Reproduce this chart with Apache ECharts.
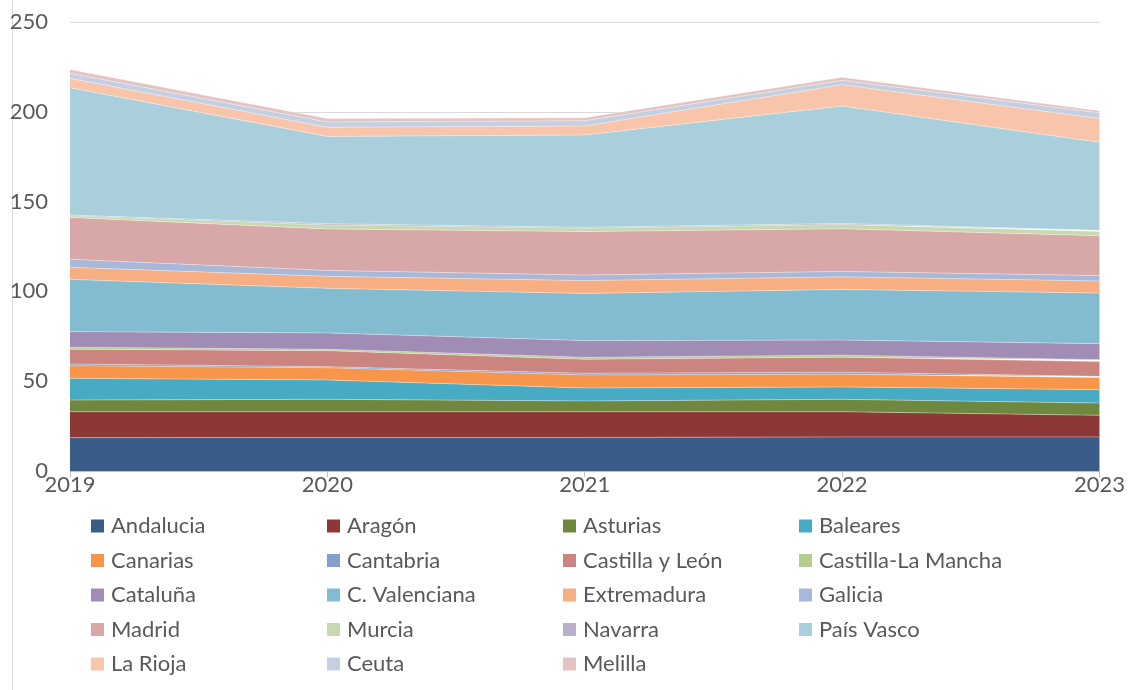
<!DOCTYPE html>
<html>
<head>
<meta charset="utf-8">
<script src="https://cdn.jsdelivr.net/npm/echarts@6/dist/echarts.min.js"></script>
<style>
html,body{margin:0;padding:0;background:#fff;}
#chart{width:1128px;height:690px;}
</style>
</head>
<body>
<div id="chart"></div>
<script>
// Data
const years = ['2019', '2020', '2021', '2022', '2023'];
const regions = ['Andalucia', 'Aragón', 'Asturias', 'Baleares', 'Canarias', 'Cantabria', 'Castilla y León', 'Castilla-La Mancha', 'Cataluña', 'C. Valenciana', 'Extremadura', 'Galicia', 'Madrid', 'Murcia', 'Navarra', 'País Vasco', 'La Rioja', 'Ceuta', 'Melilla'];
const andalucia      = [18.6, 18.7, 18.7, 19.0, 19.0];
const aragon         = [14.4, 14.3, 14.3, 14.0, 12.0];
const asturias       = [6.5, 6.9, 6.0, 6.9, 6.8];
const baleares       = [12.1, 10.8, 7.2, 6.9, 7.5];
const canarias       = [7.0, 6.8, 7.3, 7.1, 6.7];
const cantabria      = [1.0, 0.6, 0.9, 1.1, 0.7];
const castillaLeon   = [8.2, 8.9, 7.8, 8.4, 8.2];
const castillaMancha = [1.1, 0.8, 1.1, 1.1, 1.1];
const cataluna       = [8.7, 9.1, 9.3, 8.4, 8.9];
const valenciana     = [29.1, 24.8, 26.3, 28.2, 28.2];
const extremadura    = [6.7, 6.7, 7.1, 7.0, 6.7];
const galicia        = [4.5, 3.3, 3.1, 3.0, 3.0];
const madrid         = [23.3, 23.1, 24.2, 23.8, 22.2];
const murcia         = [0.9, 2.2, 1.9, 2.3, 2.4];
const navarra        = [0.4, 0.7, 0.5, 0.6, 0.6];
const paisVasco      = [70.9, 48.6, 51.4, 65.4, 49.0];
const laRioja        = [5.2, 5.1, 5.0, 11.9, 13.2];
const ceuta          = [2.8, 2.9, 2.9, 2.4, 3.2];
const melilla        = [2.2, 1.9, 1.7, 1.7, 1.2];
const yTicks = [0, 50, 100, 150, 200, 250];

const seriesData = [andalucia, aragon, asturias, baleares, canarias, cantabria, castillaLeon, castillaMancha, cataluna, valenciana, extremadura, galicia, madrid, murcia, navarra, paisVasco, laRioja, ceuta, melilla];
const colors = ['#3A5C89', '#8B3836', '#6E883F', '#47ABC4', '#F7964A', '#849FCC', '#CC8480', '#B5CD8F', '#A08CB4', '#83BCD0', '#F7AE82', '#A8B8D8', '#D8A8A8', '#C7D9AE', '#B9AECB', '#A9CFDD', '#F9C5AA', '#C4D0E2', '#E4C3C3'];

const FONT = 'Lato';
const TXT = '#595959';

const chart = echarts.init(document.getElementById('chart'), null, {renderer: 'canvas'});

const series = regions.map((name, i) => ({
  name: name,
  type: 'line',
  stack: 'total',
  data: seriesData[i],
  symbol: 'none',
  showSymbol: false,
  lineStyle: {width: 0.6, color: 'rgba(255,255,255,0.6)'},
  areaStyle: {color: colors[i], opacity: 1},
  itemStyle: {color: colors[i]},
  emphasis: {disabled: true},
  z: 2
}));

// Legend columns (row-major order in 4 columns)
const colLefts = [91, 327, 563, 799];
const legends = colLefts.map((left, c) => ({
  orient: 'vertical',
  left: left,
  top: 515,
  padding: 0,
  itemWidth: 13,
  itemHeight: 13,
  itemGap: 12.5,
  icon: 'rect',
  selectedMode: false,
  textStyle: {fontFamily: FONT, fontSize: 22, lineHeight: 22, color: TXT, padding: [0, 0, 0, 2]},
  data: regions.filter((r, i) => i % 4 === c)
}));

chart.setOption({
  animation: false,
  color: colors,
  grid: {left: 70, right: 28, top: 22, bottom: 219, containLabel: false},
  legend: legends,
  xAxis: {
    type: 'category',
    data: years,
    boundaryGap: false,
    axisLine: {lineStyle: {color: '#BFBFBF', width: 1}},
    axisTick: {show: true, length: 6, lineStyle: {color: '#BFBFBF'}},
    axisLabel: {fontFamily: FONT, fontSize: 22, color: TXT, margin: 3},
    z: 5
  },
  yAxis: {
    type: 'value',
    min: 0,
    max: 250,
    interval: 50,
    axisLine: {show: false},
    axisTick: {show: false},
    axisLabel: {fontFamily: FONT, fontSize: 22, color: TXT, margin: 22,
      formatter: v => yTicks.includes(v) ? String(v) : ''},
    splitLine: {lineStyle: {color: '#D9D9D9', width: 1}}
  },
  graphic: [{
    type: 'line',
    shape: {x1: 12.5, y1: 0, x2: 12.5, y2: 690},
    style: {stroke: '#D9D9D9', lineWidth: 1}
  }],
  series: series
});
</script>
</body>
</html>
